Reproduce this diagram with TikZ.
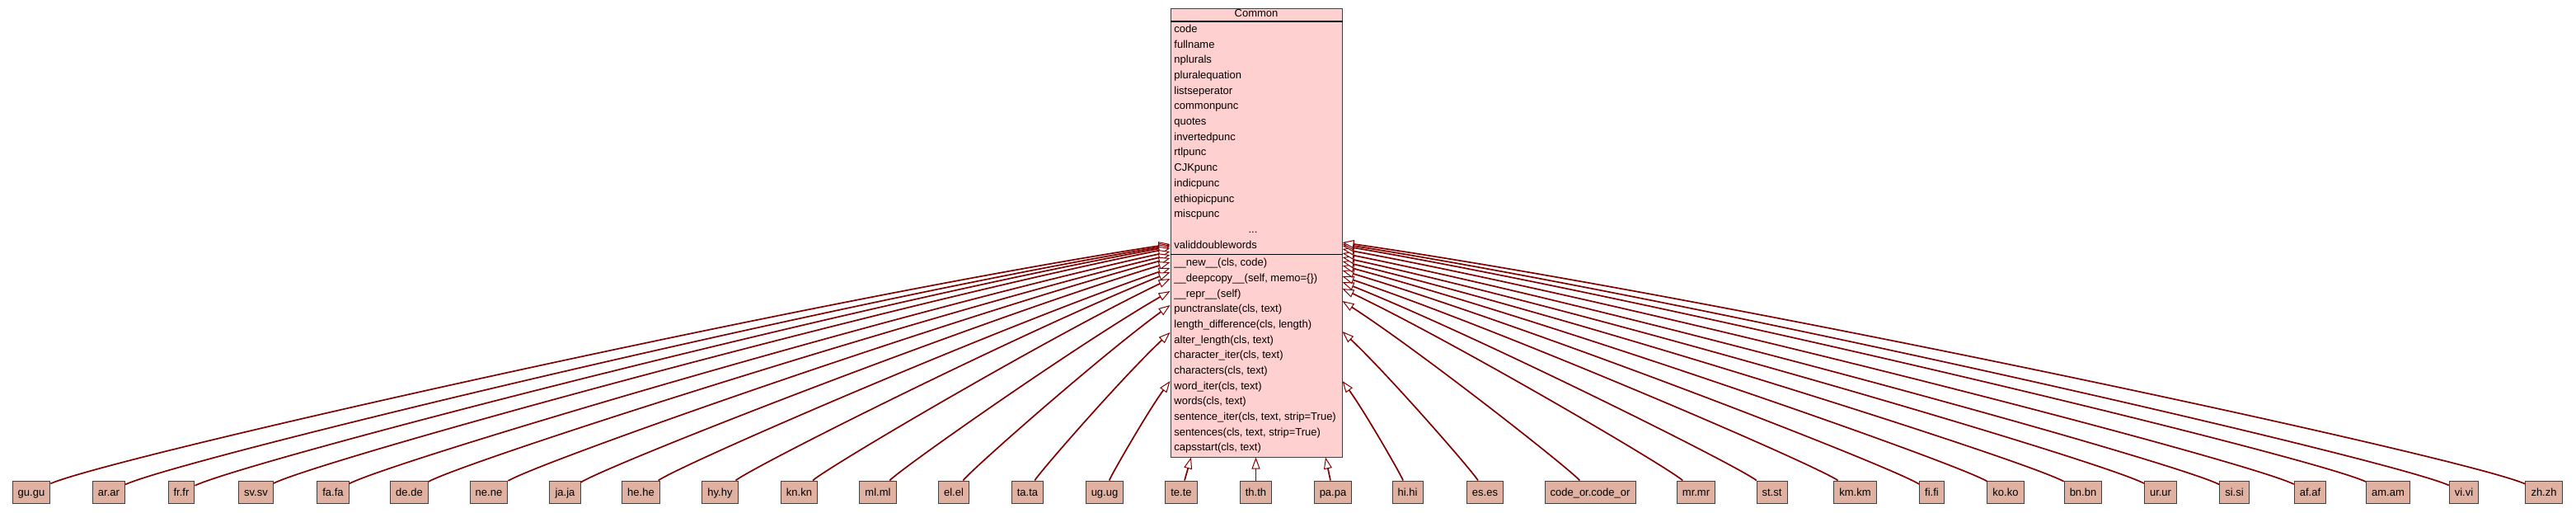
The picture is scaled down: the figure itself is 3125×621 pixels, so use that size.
\documentclass[tikz,border=0pt]{standalone}
\usepackage{fontspec}
\setmainfont{Liberation Sans}
\usetikzlibrary{arrows.meta}
\definecolor{edgered}{RGB}{128,0,0}
\definecolor{classpink}{RGB}{255,208,208}
\definecolor{leafsalmon}{RGB}{224,176,160}
\definecolor{framegray}{RGB}{64,64,64}

\begin{document}
\begin{tikzpicture}[x=0.5pt,y=-0.5pt,
	every node/.style={font=\fontsize{6.5}{8}\selectfont},
	classbox/.style={draw=framegray,line width=0.5pt,fill=classpink,minimum width=104pt,minimum height=272pt,inner sep=0pt},
	member/.style={anchor=base west,inner sep=0pt},
	leaf/.style={draw=framegray,line width=0.5pt,fill=leafsalmon,minimum height=13.5pt,inner xsep=3.3pt,inner ysep=0pt,text height=6.2pt,text depth=1pt},
	edge/.style={edgered,line width=0.85pt,-{Triangle[length=7pt,width=5pt,fill=white,line width=0.5pt]}},
	hook/.style={out looseness=0.15,in looseness=0.8}]
			\useasboundingbox (0,0) rectangle (3125,621);
			\node[classbox] (common) at (1524,282) {};
			\node[anchor=base,inner sep=0pt] (title) at (1524,20.7) {Common};
			\draw[black,line width=0.8pt] (common.west |- 0,26) -- (common.east |- 0,26);
			\draw[black,line width=0.8pt] (common.west |- 0,308.3) -- (common.east |- 0,308.3);
			\foreach \Attr [count=\i from 0] in {code,fullname,nplurals,pluralequation,listseperator,commonpunc,quotes,invertedpunc,rtlpunc,CJKpunc,indicpunc,ethiopicpunc,miscpunc}
				\node[member] (attr\i) at (1424,39.3+18.7*\i) {\Attr};
			\node[anchor=base,inner sep=0pt] (more) at (1520,282.4) {...};
			\node[member] (attr14) at (1424,301.1) {validdoublewords};
			\foreach \Meth [count=\i from 0] in {{\_\_new\_\_(cls, code)},{\_\_deepcopy\_\_(self, memo=\{\})},{\_\_repr\_\_(self)},{punctranslate(cls, text)},{length\_difference(cls, length)},{alter\_length(cls, text)},{character\_iter(cls, text)},{characters(cls, text)},{word\_iter(cls, text)},{words(cls, text)},{sentence\_iter(cls, text, strip=True)},{sentences(cls, text, strip=True)},{capsstart(cls, text)}}
				\node[member] (meth\i) at (1424,322.7+18.67*\i) {\Meth};
			\node[leaf] (gu) at (38,596.5) {gu.gu};
			\node[leaf] (ar) at (132,596.5) {ar.ar};
			\node[leaf] (fr) at (220,596.5) {fr.fr};
			\node[leaf] (sv) at (310.5,596.5) {sv.sv};
			\node[leaf] (fa) at (404,596.5) {fa.fa};
			\node[leaf] (de) at (496.5,596.5) {de.de};
			\node[leaf] (ne) at (593,596.5) {ne.ne};
			\node[leaf] (ja) at (685.5,596.5) {ja.ja};
			\node[leaf] (he) at (777.5,596.5) {he.he};
			\node[leaf] (hy) at (873.5,596.5) {hy.hy};
			\node[leaf] (kn) at (969.5,596.5) {kn.kn};
			\node[leaf] (ml) at (1065,596.5) {ml.ml};
			\node[leaf] (el) at (1157,596.5) {el.el};
			\node[leaf] (ta) at (1246.5,596.5) {ta.ta};
			\node[leaf] (ug) at (1340,596.5) {ug.ug};
			\node[leaf] (te) at (1433,596.5) {te.te};
			\node[leaf] (th) at (1523.5,596.5) {th.th};
			\node[leaf] (pa) at (1617,596.5) {pa.pa};
			\node[leaf] (hi) at (1707.5,596.5) {hi.hi};
			\node[leaf] (es) at (1801.5,596.5) {es.es};
			\node[leaf] (codeor) at (1929,596.5) {code\_or.code\_or};
			\node[leaf] (mr) at (2057.5,596.5) {mr.mr};
			\node[leaf] (st) at (2149.5,596.5) {st.st};
			\node[leaf] (km) at (2250.5,596.5) {km.km};
			\node[leaf] (fi) at (2343.5,596.5) {fi.fi};
			\node[leaf] (ko) at (2433,596.5) {ko.ko};
			\node[leaf] (bn) at (2527,596.5) {bn.bn};
			\node[leaf] (ur) at (2621,596.5) {ur.ur};
			\node[leaf] (si) at (2710.5,596.5) {si.si};
			\node[leaf] (af) at (2802.5,596.5) {af.af};
			\node[leaf] (am) at (2897,596.5) {am.am};
			\node[leaf] (vi) at (2989,596.5) {vi.vi};
			\node[leaf] (zh) at (3086,596.5) {zh.zh};
			\foreach \Leaf/\Y/\A [evaluate=\A as \Out using \A+12, evaluate=\A as \In using 180+\A-3] in {gu/296/11.7,ar/297.5/12.5,fr/299/13.3,sv/301/14.3,fa/305/15.3,de/309/16.5,ne/313/18.1,ja/318/19.8,he/325/21.9,hy/330/24.8,kn/338/28.5,ml/353/32.9,el/370/39,ta/403/46,ug/462/56.5}
				\draw[edge] (\Leaf) to[out=\Out,in=\In,hook] (common.west |- 0,\Y);
			\foreach \Leaf/\Y/\A [evaluate=\A as \Out using 180-\A-12, evaluate=\A as \In using 3-\A] in {hi/462/56.7,es/402/46.2,codeor/365/35.9,mr/350/28.5,st/342/24.8,km/335/21.7,fi/328/19.6,ko/322/18,bn/317/16.5,ur/312/15.3,si/307/14.3,af/302/13.5,am/298/12.7,vi/296/11.9,zh/294/11.2}
				\draw[edge] (\Leaf) to[out=\Out,in=\In,hook] (common.east |- 0,\Y);
			\draw[edge] (te) -- (common.south -| 1445,0);
			\draw[edge] (th) -- (th |- common.south);
			\draw[edge] (pa) -- (common.south -| 1608,0);
		\end{tikzpicture}
\end{document}
